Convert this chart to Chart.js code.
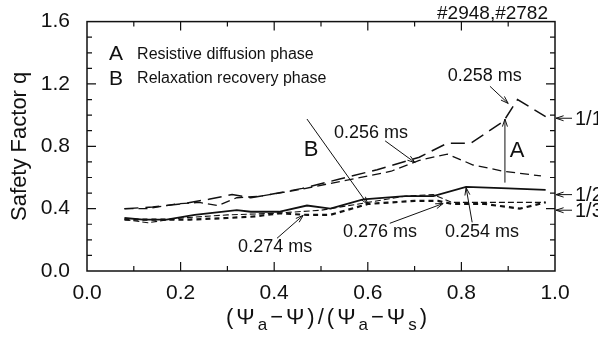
<!DOCTYPE html>
<html>
<head>
<meta charset="utf-8">
<script src="https://cdn.jsdelivr.net/npm/chart.js@4.4.0/dist/chart.umd.min.js"></script>
<style>
  html, body { margin: 0; padding: 0; background: #fff; }
</style>
</head>
<body>
<canvas id="chart" width="598" height="339"></canvas>
<script>
// q profiles vs normalized flux, one pair of arrays per time slice
const x258 = [0.08, 0.14, 0.20, 0.26, 0.31, 0.35, 0.39, 0.46, 0.54, 0.62, 0.71, 0.77, 0.82, 0.89, 0.92, 0.98];
const q258 = [0.40, 0.41, 0.43, 0.46, 0.49, 0.47, 0.49, 0.53, 0.59, 0.65, 0.73, 0.82, 0.82, 0.96, 1.10, 0.99];

const x256 = [0.08, 0.13, 0.19, 0.24, 0.28, 0.32, 0.37, 0.45, 0.55, 0.65, 0.71, 0.77, 0.825, 0.89, 0.97];
const q256 = [0.40, 0.40, 0.43, 0.44, 0.42, 0.47, 0.48, 0.52, 0.58, 0.64, 0.71, 0.75, 0.68, 0.64, 0.61];

const x254 = [0.08, 0.12, 0.17, 0.23, 0.32, 0.35, 0.41, 0.47, 0.52, 0.59, 0.68, 0.74, 0.81, 0.90, 0.98];
const q254 = [0.34, 0.33, 0.33, 0.36, 0.39, 0.38, 0.38, 0.42, 0.40, 0.46, 0.48, 0.48, 0.54, 0.53, 0.52];

const x274 = [0.08, 0.15, 0.22, 0.30, 0.36, 0.41, 0.47, 0.52, 0.60, 0.70, 0.75, 0.78, 0.85, 0.925, 0.98];
const q274 = [0.33, 0.33, 0.33, 0.34, 0.35, 0.37, 0.36, 0.36, 0.43, 0.45, 0.45, 0.43, 0.43, 0.40, 0.44];

const x276 = [0.08, 0.13, 0.20, 0.30, 0.40, 0.50, 0.60, 0.68, 0.74, 0.78, 0.86, 0.98];
const q276 = [0.33, 0.31, 0.34, 0.36, 0.37, 0.39, 0.44, 0.48, 0.49, 0.44, 0.44, 0.44];

// rational surfaces marked on the right edge
const qLabels = ['1/1', '1/2', '1/3'];
const qLevels = [0.98, 0.49, 0.39];

const FONT = '"Liberation Sans", Arial, Helvetica, sans-serif';

const pts = (xs, qs) => xs.map((v, i) => ({ x: v, y: qs[i] }));

const lineSet = (label, xs, qs, dash, width) => ({
  label, data: pts(xs, qs), borderColor: '#111', borderWidth: width,
  borderDash: dash, pointRadius: 0, tension: 0, fill: false
});

// text annotations placed in data coordinates: [text, x, q]
const notes = [
  ['0.258 ms', 0.850, 1.25],
  ['0.256 ms', 0.607, 0.886],
  ['0.276 ms', 0.626, 0.249],
  ['0.254 ms', 0.844, 0.249],
  ['0.274 ms', 0.402, 0.153]
];
// arrows [x1, q1, x2, q2], head at the second point
const arrows = [
  [0.861, 1.185, 0.900, 1.075],
  [0.637, 0.835, 0.701, 0.695],
  [0.647, 0.306, 0.761, 0.433],
  [0.823, 0.312, 0.810, 0.535],
  [0.406, 0.210, 0.462, 0.357],
  [0.470, 0.975, 0.600, 0.427],
  [0.893, 0.567, 0.893, 0.975]
];

function arrow(ctx, x1, y1, x2, y2) {
  ctx.beginPath();
  ctx.moveTo(x1, y1);
  ctx.lineTo(x2, y2);
  const ang = Math.atan2(y2 - y1, x2 - x1);
  const h = 8, w = 0.32;
  ctx.moveTo(x2 - h * Math.cos(ang - w), y2 - h * Math.sin(ang - w));
  ctx.lineTo(x2, y2);
  ctx.lineTo(x2 - h * Math.cos(ang + w), y2 - h * Math.sin(ang + w));
  ctx.stroke();
}

const inkPlugin = {
  id: 'ink',
  afterDraw(chart) {
    const { ctx, chartArea: a, scales: { x, y } } = chart;
    const px = v => x.getPixelForValue(v);
    const py = v => y.getPixelForValue(v);
    ctx.save();
    ctx.strokeStyle = '#111';
    ctx.fillStyle = '#111';
    ctx.setLineDash([]);

    // frame
    ctx.lineWidth = 1.5;
    ctx.strokeRect(a.left, a.top, a.right - a.left, a.bottom - a.top);

    // inward ticks on all four sides
    ctx.lineWidth = 1.2;
    ctx.beginPath();
    x.ticks.forEach(t => {
      const v = t.value;
      if (v <= 0 || v >= 1) return;
      const len = Math.round(v * 10) % 2 === 0 ? 9 : 5;
      const X = px(v);
      ctx.moveTo(X, a.bottom); ctx.lineTo(X, a.bottom - len);
      ctx.moveTo(X, a.top); ctx.lineTo(X, a.top + len);
    });
    y.ticks.forEach(t => {
      const v = t.value;
      if (v <= 0 || v >= 1.6) return;
      const len = Math.round(v * 10) % 4 === 0 ? 9 : 5;
      const Y = py(v);
      ctx.moveTo(a.left, Y); ctx.lineTo(a.left + len, Y);
      ctx.moveTo(a.right, Y); ctx.lineTo(a.right - len, Y);
    });
    ctx.stroke();

    // legend text
    ctx.textBaseline = 'middle';
    ctx.textAlign = 'center';
    ctx.font = '21px ' + FONT;
    ctx.fillText('A', px(0.062), py(1.389));
    ctx.fillText('B', px(0.062), py(1.233));
    ctx.textAlign = 'left';
    ctx.font = '16px ' + FONT;
    ctx.fillText('Resistive diffusion phase', px(0.107), py(1.389));
    ctx.fillText('Relaxation recovery phase', px(0.107), py(1.233));

    // shot numbers
    ctx.textAlign = 'right';
    ctx.font = '19px ' + FONT;
    ctx.fillText('#2948,#2782', a.right - 7, a.top - 8);

    // time labels and arrows
    ctx.textAlign = 'center';
    ctx.font = '18px ' + FONT;
    notes.forEach(([t, nx, nq]) => ctx.fillText(t, px(nx), py(nq)));
    ctx.font = '22px ' + FONT;
    ctx.fillText('B', px(0.479), py(0.778));
    ctx.fillText('A', px(0.919), py(0.771));
    ctx.lineWidth = 1;
    arrows.forEach(([x1, q1, x2, q2]) => arrow(ctx, px(x1), py(q1), px(x2), py(q2)));

    // rational q marks on the right
    ctx.textAlign = 'left';
    ctx.font = '20px ' + FONT;
    qLevels.forEach((q, i) => {
      const Y = py(q);
      arrow(ctx, a.right + 17, Y, a.right + 1, Y);
      ctx.fillText(qLabels[i], a.right + 20, Y + 1);
    });

    // x-axis title with subscripts
    const parts = [['(', 0], ['Ψ', 0], ['a', 1], ['−', 0], ['Ψ', 0], [')', 0], ['/', 0],
                   ['(', 0], ['Ψ', 0], ['a', 1], ['−', 0], ['Ψ', 0], ['s', 1], [')', 0]];
    const mainFont = '22px ' + FONT, subFont = '17px ' + FONT, gap = 3;
    let total = 0;
    parts.forEach(([s, sub]) => {
      ctx.font = sub ? subFont : mainFont;
      total += ctx.measureText(s).width + gap;
    });
    let cx = 328 - total / 2;
    const base = 324;
    ctx.textBaseline = 'alphabetic';
    parts.forEach(([s, sub]) => {
      ctx.font = sub ? subFont : mainFont;
      ctx.fillText(s, cx, sub ? base + 6 : base);
      cx += ctx.measureText(s).width + gap;
    });
    ctx.restore();
  }
};

new Chart(document.getElementById('chart'), {
  type: 'line',
  data: {
    datasets: [
      lineSet('0.258 ms', x258, q258, [14, 7], 1.5),
      lineSet('0.256 ms', x256, q256, [9, 5], 1.3),
      lineSet('0.254 ms', x254, q254, [], 1.8),
      lineSet('0.276 ms', x276, q276, [6, 3], 1.1),
      lineSet('0.274 ms', x274, q274, [5, 4], 2.2)
    ]
  },
  options: {
    responsive: false,
    animation: false,
    layout: { padding: { top: 20, right: 43, left: 0, bottom: 0 } },
    plugins: { legend: { display: false }, tooltip: { enabled: false } },
    scales: {
      x: {
        type: 'linear', min: 0, max: 1,
        grid: { display: false }, border: { display: false },
        afterFit: s => { s.height = 68; },
        ticks: {
          stepSize: 0.1, autoSkip: false, maxRotation: 0, padding: 2,
          color: '#111', font: { family: FONT, size: 21 },
          callback: v => Math.round(v * 10) % 2 === 0 ? v.toFixed(1) : ''
        }
      },
      y: {
        type: 'linear', min: 0, max: 1.6,
        grid: { display: false }, border: { display: false },
        afterFit: s => { s.width = 87; },
        title: {
          display: true, text: 'Safety Factor q', color: '#111',
          font: { family: FONT, size: 22 }, padding: { top: 7, bottom: 0 }
        },
        ticks: {
          stepSize: 0.1, autoSkip: false, padding: 9,
          color: '#111', font: { family: FONT, size: 21 },
          callback: v => Math.round(v * 10) % 4 === 0 ? v.toFixed(1) : ''
        }
      }
    }
  },
  plugins: [inkPlugin]
});
</script>
</body>
</html>
